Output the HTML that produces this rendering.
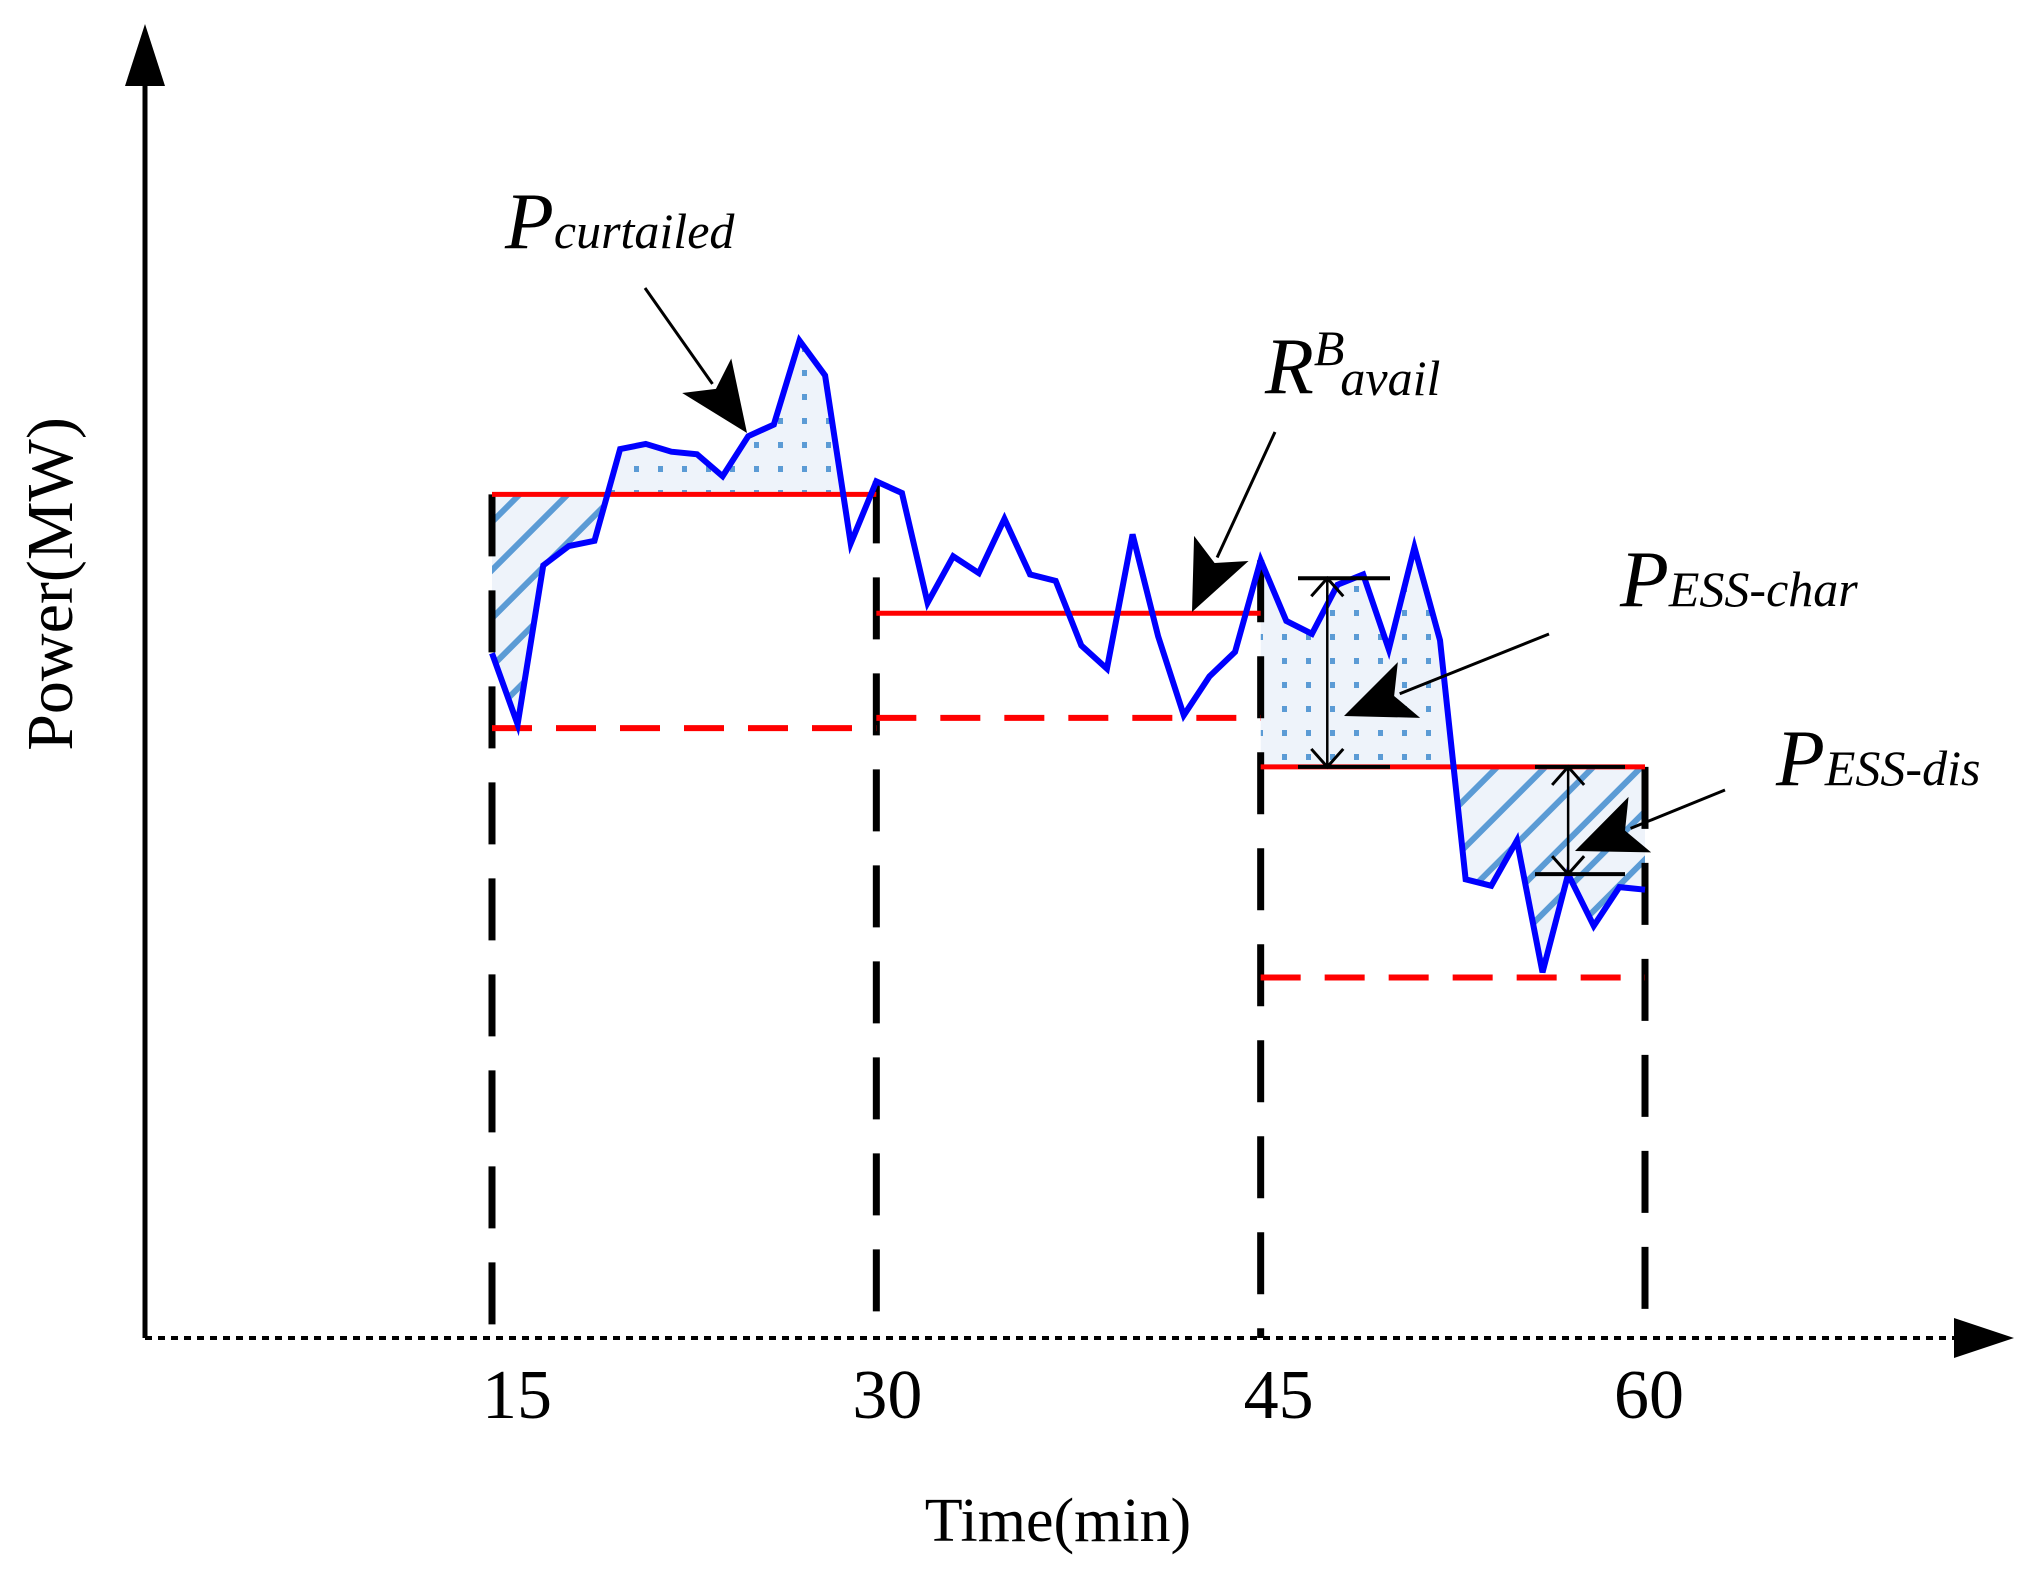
<!DOCTYPE html>
<html><head><meta charset="utf-8"><style>
html,body{margin:0;padding:0;background:#fff;}
svg{display:block;}
text{font-family:"Liberation Serif","DejaVu Serif",serif;fill:#000;}
</style></head><body>
<svg id="chart" width="2026" height="1584" viewBox="0 0 2026 1584" xmlns="http://www.w3.org/2000/svg">
<defs>
<pattern id="dots" width="24" height="24" patternUnits="userSpaceOnUse">
<rect width="24" height="24" fill="#eef3fa"/><rect x="10" y="10" width="5" height="6" fill="#5b9bd5"/></pattern>
<pattern id="hatch" width="34" height="34" patternUnits="userSpaceOnUse" patternTransform="rotate(45)">
<rect width="34" height="34" fill="#eef3fa"/><rect x="0" y="0" width="6" height="34" fill="#5b9bd5"/></pattern>
</defs>
<g id="fills"></g>
<g id="lines"></g>
<g id="annot"></g>
</svg>
<script>
const times=[15,16,17,18,19,20,21,22,23,24,25,26,27,28,29,30,31,32,33,34,35,36,37,38,39,40,41,42,43,44,45,46,47,48,49,50,51,52,53,54,55,56,57,58,59,60];
const power=[53.0,47.5,59.8,61.3,61.7,68.8,69.2,68.6,68.4,66.7,69.8,70.7,77.2,74.5,61.5,66.3,65.4,56.9,60.5,59.2,63.4,59.1,58.6,53.6,51.8,62.2,54.3,48.2,51.2,53.1,60.2,55.5,54.5,58.3,59.1,53.3,61.2,54.0,35.5,35.0,38.5,28.3,35.9,31.9,34.9,34.7];
const periodStart=[15,30,45];
const periodEnd=[30,45,60];
const scheduleUpper=[65.3,56.1,44.2];
const scheduleLower=[47.2,48.0,27.9];
const tickLabels=["15","30","45","60"];
const tickValues=[15,30,45,60];

const NS="http://www.w3.org/2000/svg";
const X=t=>492+(t-15)*(1645-492)/45;
const Y=v=>1338-v*12.92;
const tickOffset=[25,11,18,4];
function mk(tag,attrs,parent){const e=document.createElementNS(NS,tag);for(const k in attrs)e.setAttribute(k,attrs[k]);parent.appendChild(e);return e;}
const svg=document.getElementById('chart');
const fills=document.getElementById('fills'),lines=document.getElementById('lines'),annot=document.getElementById('annot');

function fillSeg(i,hatchFrom,hatchTo,dotFrom,dotTo){
  const lv=scheduleUpper[i];
  const pts=[];
  times.forEach((t,j)=>{if(t>=periodStart[i]&&t<=periodEnd[i])pts.push(X(t)+','+Y(power[j]));});
  const poly=pts.join(' ')+' '+X(periodEnd[i])+','+Y(lv)+' '+X(periodStart[i])+','+Y(lv);
  const cA=mk('clipPath',{id:'ca'+i},svg);
  mk('rect',{x:X(dotFrom),y:0,width:X(dotTo)-X(dotFrom),height:Y(lv)},cA);
  const cB=mk('clipPath',{id:'cb'+i},svg);
  mk('rect',{x:X(hatchFrom),y:Y(lv),width:X(hatchTo)-X(hatchFrom),height:1584-Y(lv)},cB);
  const a=mk('polygon',{points:poly,fill:'url(#dots)','clip-path':'url(#ca'+i+')'},fills);
  
  
  const b=mk('polygon',{points:poly,fill:'url(#hatch)','clip-path':'url(#cb'+i+')'},fills);
  
  
}
fillSeg(0,15,19.5,15,30);
fillSeg(2,52,60,45,52.8);

tickValues.forEach((t,i)=>{
  const top=i===0?Y(scheduleUpper[0]):(i===1?Y(66.3):(i===2?Y(60.2):Y(scheduleUpper[2])));
  const l=mk('line',{x1:X(t),x2:X(t),y1:top,y2:1338,stroke:'#000','stroke-width':7,'stroke-dasharray':'62 34'},lines);
  
  
});
let e=mk('line',{x1:145,y1:1338,x2:145,y2:70,stroke:'#000','stroke-width':5},lines);

e=mk('polygon',{points:'145,24 125,86 165,86',fill:'#000'},lines);

e=mk('line',{x1:145,y1:1338,x2:1960,y2:1338,stroke:'#000','stroke-width':4,'stroke-dasharray':'7 6'},lines);

e=mk('polygon',{points:'2014,1338 1954,1318 1954,1358',fill:'#000'},lines);


periodStart.forEach((s,i)=>{
  let a=mk('line',{x1:X(s),x2:X(periodEnd[i]),y1:Y(scheduleUpper[i]),y2:Y(scheduleUpper[i]),stroke:'#ff0000','stroke-width':5},lines);
  
  
  let b=mk('line',{x1:X(s),x2:X(periodEnd[i]),y1:Y(scheduleLower[i]),y2:Y(scheduleLower[i]),stroke:'#ff0000','stroke-width':6,'stroke-dasharray':'40 24'},lines);
  
  
});
const bl=mk('polyline',{points:times.map((t,j)=>X(t)+','+Y(power[j])).join(' '),fill:'none',stroke:'#0000ff','stroke-width':6,'stroke-linejoin':'miter'},lines);



tickValues.forEach((t,i)=>{
  const tx=mk('text',{x:X(t)+tickOffset[i],y:1418,'font-size':70,'text-anchor':'middle'},annot);
  tx.textContent=tickLabels[i];
  
  
});

function arrow(name,x1,y1,x2,y2){
  const g=mk('g',{},annot);
  
  
  const dx=x2-x1,dy=y2-y1,L=Math.hypot(dx,dy),ux=dx/L,uy=dy/L;
  const hl=70,hw=30;
  const bx=x2-ux*hl,by=y2-uy*hl;
  mk('line',{x1:x1,y1:y1,x2:bx+ux*10,y2:by+uy*10,stroke:'#000','stroke-width':3},g);
  mk('polygon',{points:`${x2},${y2} ${bx-uy*hw},${by+ux*hw} ${bx+ux*16},${by+uy*16} ${bx+uy*hw},${by-ux*hw}`,fill:'#000'},g);
}
arrow('curtailed-arrow',645,288,747,433);
arrow('reserve-arrow',1275,432,1192,612);
arrow('ess-char-arrow',1549,634,1344,716);
arrow('ess-dis-arrow',1725,790,1575,851);

function dbl(name,x,y1,y2,c1,c2){
  const g=mk('g',{},annot);
  
  
  mk('line',{x1:x,x2:x,y1:y1,y2:y2,stroke:'#000','stroke-width':2.5},g);
  mk('line',{x1:c1,x2:c2,y1:y1,y2:y1,stroke:'#000','stroke-width':4},g);
  mk('line',{x1:c1,x2:c2,y1:y2,y2:y2,stroke:'#000','stroke-width':4},g);
  mk('polyline',{points:`${x-16},${y1+18} ${x},${y1} ${x+16},${y1+18}`,fill:'none',stroke:'#000','stroke-width':3},g);
  mk('polyline',{points:`${x-16},${y2-18} ${x},${y2} ${x+16},${y2-18}`,fill:'none',stroke:'#000','stroke-width':3},g);
}
dbl('ess-char-range',X(47.6),Y(power[33]+0.5),Y(scheduleUpper[2]),1298,1390);
dbl('ess-dis-range',X(57),Y(scheduleUpper[2]),Y(power[42]),1535,1625);
</script>
<svg style="position:absolute;left:0;top:0" width="2026" height="1584">
<text x="1058" y="1541" font-size="62" text-anchor="middle">Time(min)</text>
<text transform="translate(72,584) rotate(-90)" font-size="66" text-anchor="middle">Power(MW)</text>
<text x="505" y="248" font-style="italic" font-size="80">P<tspan font-size="50">curtailed</tspan></text>
<text x="1265" y="393" font-style="italic" font-size="80">R<tspan font-size="50" dy="-28">B</tspan><tspan font-size="50" dy="30" dx="-4">avail</tspan></text>
<text x="1620" y="606" font-style="italic" font-size="80">P<tspan font-size="50">ESS-char</tspan></text>
<text x="1776" y="785" font-style="italic" font-size="80">P<tspan font-size="50">ESS-dis</tspan></text>
</svg>
</body></html>
